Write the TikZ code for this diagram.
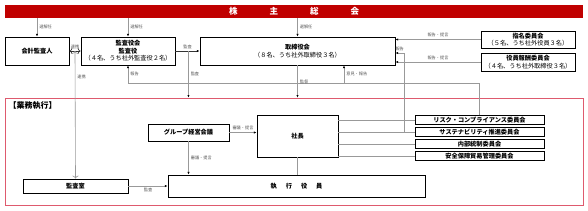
\documentclass[tikz,border=0pt]{standalone}
\usepackage{fontspec}
\newfontfamily\jp{Noto Sans CJK JP}
\usetikzlibrary{arrows.meta,calc,positioning}
\definecolor{barred}{RGB}{192,0,0}
\definecolor{frame}{RGB}{222,90,110}

\begin{document}
\begin{tikzpicture}[x=1pt,y=-1pt,
 every node/.style={font=\jp\bfseries\fontsize{6.2}{7.6}\selectfont},
 box/.style={draw,line width=0.9pt,align=center,inner sep=0pt},
 lbl/.style={font=\jp\fontsize{4.2}{5}\selectfont,text=black!65,inner sep=2pt},
 line/.style={draw=black!40,line width=0.6pt},
 conn/.style={line,-{Latex[length=2.6pt,width=2.2pt,color=black]}},
 dconn/.style={conn,draw=black!80}]
\useasboundingbox (0,0) rectangle (588,210);
% shareholders
\node[fill=barred,minimum width=578pt,minimum height=13pt,inner sep=0pt,
 text=white,font=\jp\bfseries\fontsize{8.5}{9}\selectfont] (gm) at (294,11.5)
 {株\hspace{32pt}主\hspace{32pt}総\hspace{32pt}会};
% governance
\node[box,minimum width=64pt,minimum height=28pt] (acct) at (37,51) {会計監査人};
\node[box,minimum width=94pt,minimum height=28pt] (aud) at (128,51)
 {監査役会\\監査役\\\mdseries（４名、うち社外監査役２名）};
\node[box,minimum width=195pt,minimum height=28pt] (board) at (297.5,51)
 {取締役会\\\mdseries（８名、うち社外取締役３名）};
\node[box,minimum width=94pt,minimum height=17pt] (nom) at (528,39.5)
 {指名委員会\\\mdseries（５名、うち社外役員３名）};
\node[box,minimum width=94pt,minimum height=18pt] (rem) at (528,62)
 {役員報酬委員会\\\mdseries（４名、うち社外取締役３名）};
% execution
\node[draw=frame,line width=0.8pt,minimum width=578pt,minimum height=107pt] (exe) at (294,151.5) {};
\node[anchor=west,font=\jp\bfseries\fontsize{8}{9}\selectfont] (exet) at (5,106) {【業務執行】};
\node[box,minimum width=81pt,minimum height=17pt] (grp) at (188.5,132.5) {グループ経営会議};
\node[box,minimum width=81pt,minimum height=42pt] (pres) at (297.5,136) {社長};
\node[box,minimum width=129pt,minimum height=8.5pt] (risk) at (479.5,120) {リスク・コンプライアンス委員会};
\node[box,minimum width=129pt,minimum height=8.5pt,below=2.6pt of risk] (sus) {サステナビリティ推進委員会};
\node[box,minimum width=129pt,minimum height=8.5pt,below=2.6pt of sus] (ic) {内部統制委員会};
\node[box,minimum width=129pt,minimum height=8.5pt,below=2.6pt of ic] (sec) {安全保障貿易管理委員会};
\node[box,minimum width=257pt,minimum height=22pt] (off) at (296.5,186) {執\hspace{9pt}行\hspace{9pt}役\hspace{9pt}員};
\node[box,minimum width=105pt,minimum height=14pt] (ia) at (75.5,186) {監査室};
% helper points
\coordinate (rk) at ($(acct.east)!0.5!(aud.west)$);
\coordinate (kb) at ($(aud.east)+(13,0)$);
\coordinate (rl) at (128,83);
\coordinate (ik) at (344,83);
\coordinate (bk) at (404,53);
% connectors
\draw[conn] (gm.south -| acct.north) -- node[right,lbl]{選解任} (acct.north);
\draw[conn] (gm.south -| aud.north) -- node[right,lbl]{選解任} (aud.north);
\draw[conn] (gm.south -| board.north) -- node[right,lbl]{選解任} (board.north);
\draw[dconn,<->] (acct.east) -- node[above,lbl]{連携} (aud.west);
\draw[conn,<->] (rk) -- node[right,lbl,pos=.2]{連携} (ia.north);
\draw[dconn] (aud.east) -- node[above,lbl]{監査} (board.west);
\draw[conn] (kb) -- node[right,lbl]{監査} (kb |- exe.north);
\draw[conn] (risk.north) |- (rl) -- node[right,lbl]{報告} (aud.south);
\draw[conn] (board.south) -- node[right,lbl]{監督} (board.south |- exe.north);
\draw[conn] (ik) -- node[right,lbl]{意見・報告} (ik |- board.south);
\draw[conn] (nom.west) -- node[above,lbl]{報告・提言} (nom.west -| board.east);
\draw[conn] (rem.west) -- node[above,lbl]{報告・提言} (rem.west -| board.east);
\draw[conn] (bk |- sus) -- (bk) -- node[above,lbl]{報告} (bk -| board.east);
\foreach \c in {risk,sus,ic,sec} \draw[line] (pres.east |- \c) -- (\c.west);
\draw[conn] (grp.east) -- node[above,lbl]{審議・提言} (grp.east -| pres.west);
\draw[conn] (grp.south) -- node[right,lbl]{審議・提言} (grp.south |- off.north);
\draw[line] (pres.south) -- (pres.south |- off.north);
\draw[conn] (ia.east) -- node[below,lbl]{監査} (ia.east -| off.west);
\end{tikzpicture}
\end{document}
